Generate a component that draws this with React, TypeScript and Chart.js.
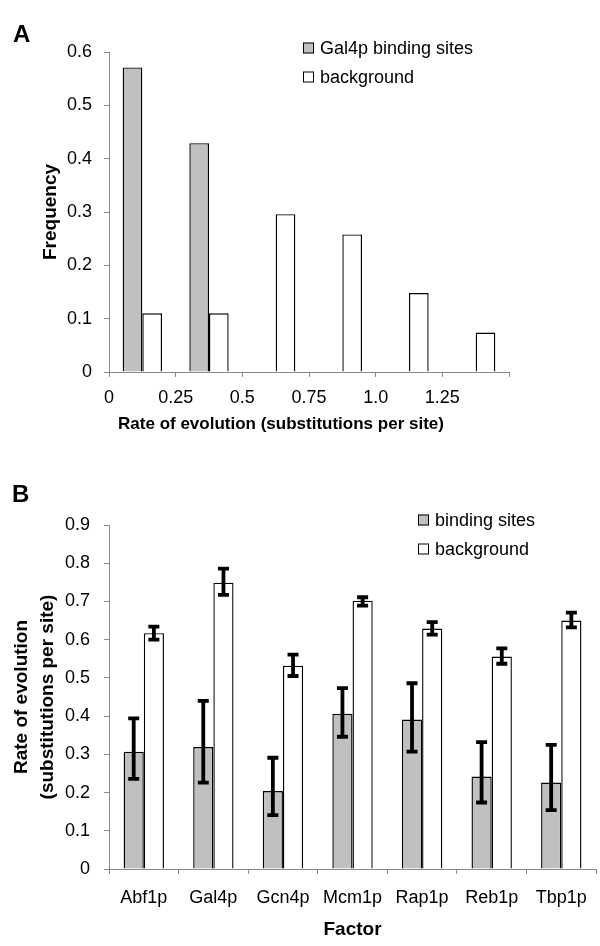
import React, { useEffect, useRef } from "react";
import { Chart, registerables } from "chart.js";

Chart.register(...registerables);

// ---------- Panel A data ----------
const binCenters = [0.125, 0.375, 0.625, 0.875, 1.125, 1.375];
const gal4pFreq = [0.571, 0.429, 0, 0, 0, 0];
const backgroundFreq = [0.11, 0.11, 0.296, 0.258, 0.148, 0.074];
const xTickLabelsA = ["0", "0.25", "0.5", "0.75", "1.0", "1.25", ""];
const yTickLabelsA = ["0", "0.1", "0.2", "0.3", "0.4", "0.5", "0.6"];

// ---------- Panel B data ----------
const factors = ["Abf1p", "Gal4p", "Gcn4p", "Mcm1p", "Rap1p", "Reb1p", "Tbp1p"];
const bindingRate = [0.307, 0.319, 0.204, 0.406, 0.391, 0.242, 0.226];
const bindingLow = [0.236, 0.226, 0.141, 0.346, 0.307, 0.174, 0.154];
const bindingHigh = [0.394, 0.44, 0.291, 0.473, 0.486, 0.332, 0.325];
const backgroundRate = [0.617, 0.749, 0.532, 0.702, 0.629, 0.556, 0.65];
const backgroundLow = [0.6, 0.717, 0.505, 0.689, 0.613, 0.537, 0.632];
const backgroundHigh = [0.634, 0.786, 0.561, 0.711, 0.646, 0.577, 0.671];
const yTickLabelsB = ["0", "0.1", "0.2", "0.3", "0.4", "0.5", "0.6", "0.7", "0.8", "0.9"];

const FONT = "'Liberation Sans', Arial, Helvetica, sans-serif";
const GRAY = "#c0c0c0";
const AXIS = "#8a8a8a";
const TICK_SIZE = 18;
const TITLE_SIZE = 19;

const boxLegendPlugin = {
  id: "boxLegend",
  afterDraw(chart: any, _args: any, opts: any) {
    const { ctx } = chart;
    ctx.save();
    chart.data.datasets.forEach((ds: any, i: number) => {
      const y = opts.y + i * opts.spacing;
      const b = opts.box;
      ctx.fillStyle = ds.backgroundColor;
      ctx.fillRect(opts.x, y - b / 2, b, b);
      ctx.strokeStyle = "#000";
      ctx.lineWidth = 1;
      ctx.strokeRect(opts.x + 0.5, y - b / 2 + 0.5, b - 1, b - 1);
      ctx.fillStyle = "#000";
      ctx.font = `${opts.fontSize}px ${FONT}`;
      ctx.textBaseline = "middle";
      ctx.textAlign = "left";
      ctx.fillText(ds.label, opts.x + b + opts.gap, y + 1);
    });
    ctx.restore();
  },
};

const shiftedTitlePlugin = {
  id: "shiftedTitle",
  afterDraw(chart: any, _args: any, opts: any) {
    if (!opts || !opts.text) return;
    const { ctx, chartArea } = chart;
    ctx.save();
    ctx.fillStyle = "#000";
    ctx.font = `bold ${opts.fontSize}px ${FONT}`;
    ctx.textAlign = "center";
    ctx.textBaseline = "middle";
    ctx.fillText(opts.text, (chartArea.left + chartArea.right) / 2 + opts.dx, chartArea.bottom + opts.dy);
    ctx.restore();
  },
};

const errorBarPlugin = {
  id: "errorBars",
  afterDatasetsDraw(chart: any, _args: any, opts: any) {
    const { ctx } = chart;
    const yScale = chart.scales.y;
    ctx.save();
    ctx.strokeStyle = "#000";
    ctx.lineWidth = opts.lineWidth;
    ctx.lineCap = "butt";
    chart.data.datasets.forEach((_ds: any, i: number) => {
      const meta = chart.getDatasetMeta(i);
      const lows = opts.low[i];
      const highs = opts.high[i];
      meta.data.forEach((bar: any, j: number) => {
        const x = bar.x;
        const yl = yScale.getPixelForValue(lows[j]);
        const yh = yScale.getPixelForValue(highs[j]);
        const c = opts.cap;
        ctx.beginPath();
        ctx.moveTo(x, yl);
        ctx.lineTo(x, yh);
        ctx.moveTo(x - c, yl);
        ctx.lineTo(x + c, yl);
        ctx.moveTo(x - c, yh);
        ctx.lineTo(x + c, yh);
        ctx.stroke();
      });
    });
    ctx.restore();
  },
};

function ChartA() {
  const ref = useRef<HTMLCanvasElement>(null);
  useEffect(() => {
    const chart = new Chart(ref.current as HTMLCanvasElement, {
      type: "bar",
      data: {
        datasets: [
          {
            label: "Gal4p binding sites",
            data: binCenters.map((x, i) => ({ x, y: gal4pFreq[i] })),
            backgroundColor: GRAY,
            borderColor: "#000",
            borderWidth: 1.4,
            categoryPercentage: 0.59,
            barPercentage: 1,
          },
          {
            label: "background",
            data: binCenters.map((x, i) => ({ x, y: backgroundFreq[i] })),
            backgroundColor: "#ffffff",
            borderColor: "#000",
            borderWidth: 1.4,
            categoryPercentage: 0.59,
            barPercentage: 1,
          },
        ],
      } as any,
      options: {
        animation: false,
        responsive: false,
        layout: { padding: { top: 52, left: 0, right: 91, bottom: 0 } },
        plugins: {
          legend: { display: false },
          tooltip: { enabled: false },
          boxLegend: { x: 303, y: 48, spacing: 29, box: 11, gap: 6, fontSize: TICK_SIZE },
          shiftedTitle: { text: "Rate of evolution (substitutions per site)", fontSize: 17, dx: -28, dy: 52 },
        } as any,
        scales: {
          x: {
            type: "linear",
            min: 0,
            max: 1.5,
            offset: false,
            ticks: {
              stepSize: 0.25,
              autoSkip: false,
              maxRotation: 0,
              color: "#000",
              padding: 10,
              font: { family: FONT, size: TICK_SIZE },
              callback: (_v: any, i: number) => xTickLabelsA[i] ?? "",
            },
            grid: { drawOnChartArea: false, drawTicks: true, tickLength: 5, color: AXIS, offset: false },
            border: { color: AXIS, width: 1 },
            afterFit: (s: any) => {
              s.height = 68;
            },
          },
          y: {
            min: 0,
            max: 0.6,
            ticks: {
              stepSize: 0.1,
              color: "#000",
              padding: 12,
              font: { family: FONT, size: TICK_SIZE },
              callback: (_v: any, i: number) => yTickLabelsA[i] ?? "",
            },
            grid: { drawOnChartArea: false, drawTicks: true, tickLength: 5, color: AXIS },
            border: { color: AXIS, width: 1 },
            title: {
              display: true,
              text: "Frequency",
              color: "#000",
              font: { family: FONT, size: TITLE_SIZE, weight: "bold" },
              padding: { top: 39, bottom: 0 },
            },
            afterFit: (s: any) => {
              s.width = 109;
            },
          },
        },
      } as any,
      plugins: [boxLegendPlugin, shiftedTitlePlugin],
    });
    return () => chart.destroy();
  }, []);
  return <canvas ref={ref} width={600} height={440} style={{ display: "block" }} />;
}

function ChartB() {
  const ref = useRef<HTMLCanvasElement>(null);
  useEffect(() => {
    const chart = new Chart(ref.current as HTMLCanvasElement, {
      type: "bar",
      data: {
        labels: factors,
        datasets: [
          {
            label: "binding sites",
            data: bindingRate,
            backgroundColor: GRAY,
            borderColor: "#000",
            borderWidth: 1.4,
            categoryPercentage: 0.58,
            barPercentage: 1,
          },
          {
            label: "background",
            data: backgroundRate,
            backgroundColor: "#ffffff",
            borderColor: "#000",
            borderWidth: 1.4,
            categoryPercentage: 0.58,
            barPercentage: 1,
          },
        ],
      },
      options: {
        animation: false,
        responsive: false,
        layout: { padding: { top: 65, left: 0, right: 3, bottom: 0 } },
        plugins: {
          legend: { display: false },
          tooltip: { enabled: false },
          boxLegend: { x: 418, y: 60, spacing: 29, box: 11, gap: 6, fontSize: TICK_SIZE },
          errorBars: {
            low: [bindingLow, backgroundLow],
            high: [bindingHigh, backgroundHigh],
            lineWidth: 3.8,
            cap: 5.5,
          },
        } as any,
        scales: {
          x: {
            type: "category",
            offset: true,
            ticks: {
              color: "#000",
              padding: 13,
              maxRotation: 0,
              autoSkip: false,
              font: { family: FONT, size: TICK_SIZE },
            },
            grid: { drawOnChartArea: false, drawTicks: true, tickLength: 5, color: AXIS, offset: true },
            border: { color: AXIS, width: 1 },
            title: {
              display: true,
              text: "Factor",
              color: "#000",
              font: { family: FONT, size: TITLE_SIZE, weight: "bold" },
              padding: { top: 0, bottom: 5 },
            },
            afterFit: (s: any) => {
              s.height = 77;
            },
          },
          y: {
            min: 0,
            max: 0.9,
            ticks: {
              stepSize: 0.1,
              color: "#000",
              padding: 14,
              font: { family: FONT, size: TICK_SIZE },
              callback: (_v: any, i: number) => yTickLabelsB[i] ?? "",
            },
            grid: { drawOnChartArea: false, drawTicks: true, tickLength: 5, color: AXIS },
            border: { color: AXIS, width: 1 },
            title: {
              display: true,
              text: ["Rate of evolution", "(substitutions per site)"],
              color: "#000",
              font: { family: FONT, size: TITLE_SIZE, weight: "bold", lineHeight: 1.35 },
              padding: { top: 9, bottom: 0 },
            },
            afterFit: (s: any) => {
              s.width = 109;
            },
          },
        },
      } as any,
      plugins: [boxLegendPlugin, errorBarPlugin],
    });
    return () => chart.destroy();
  }, []);
  return <canvas ref={ref} width={600} height={486} style={{ display: "block" }} />;
}

export default function App() {
  const letter: React.CSSProperties = {
    position: "absolute",
    fontFamily: FONT,
    fontWeight: "bold",
    fontSize: 24,
    lineHeight: "24px",
    color: "#000",
  };
  return (
    <div style={{ position: "absolute", left: 0, top: 0, width: 600, height: 946, background: "#fff", overflow: "hidden" }}>
      <div style={{ position: "absolute", left: 0, top: 0 }}>
        <ChartA />
      </div>
      <div style={{ position: "absolute", left: 0, top: 460 }}>
        <ChartB />
      </div>
      <div style={{ ...letter, left: 13, top: 22 }}>A</div>
      <div style={{ ...letter, left: 12, top: 482 }}>B</div>
    </div>
  );
}
